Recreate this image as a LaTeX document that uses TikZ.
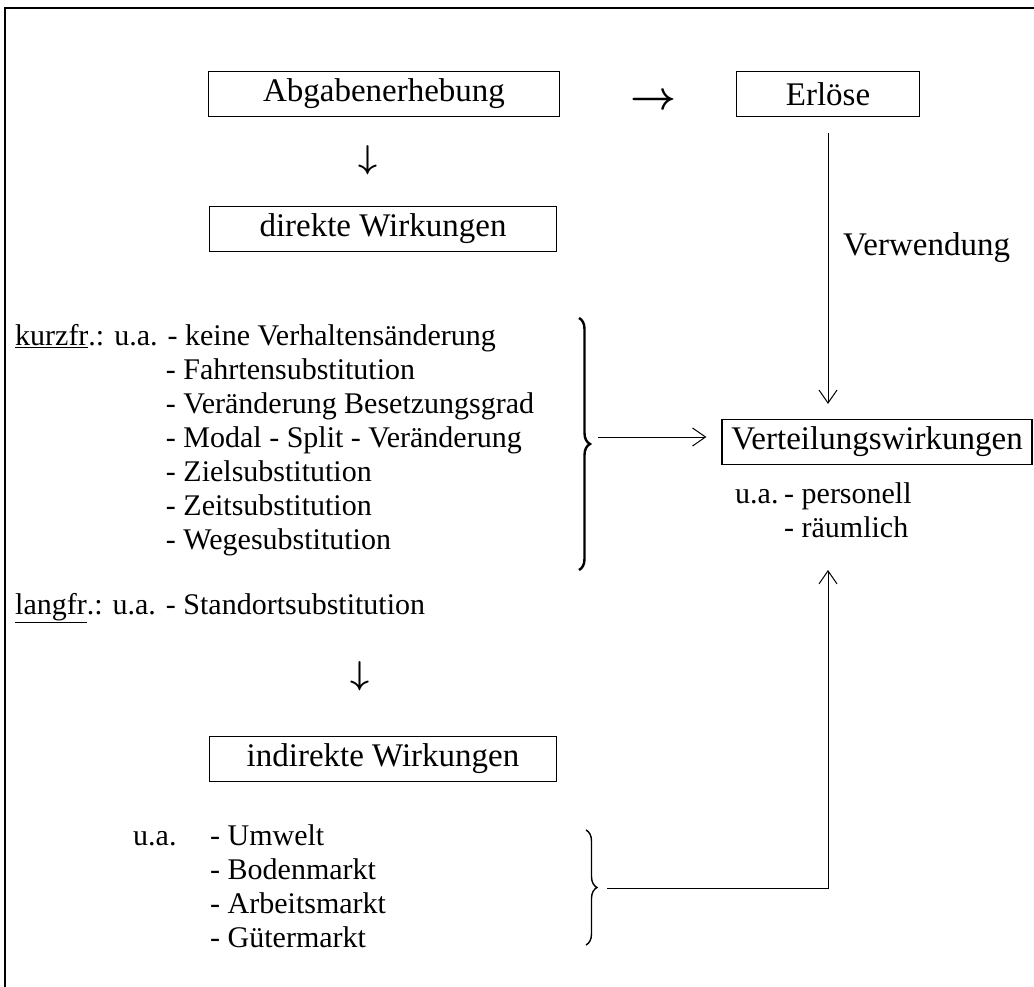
\documentclass[tikz,border=0pt]{standalone}
\usepackage{graphicx}
\usepackage{fontspec}
\setmainfont{Liberation Serif}
\usetikzlibrary{arrows.meta,positioning,calc,decorations.pathreplacing}

\newcommand{\kurzindent}{\hphantom{kurzfr.: u.a. }}

\begin{document}
\begin{tikzpicture}[x=1pt, y=-1pt,
    box/.style={draw, line width=1.2pt, minimum height=45pt, inner sep=0pt, font=\fontsize{33}{36}\selectfont},
    txt/.style={inner sep=0pt, align=left, font=\fontsize{30}{34}\selectfont},
    big/.style={inner sep=0pt, font=\fontsize{33}{36}\selectfont},
    glyph/.style={inner sep=0pt},
    arr/.style={-{Straight Barb[length=13pt,width=18pt]}, line width=1pt},
    bracebig/.style={decorate, decoration={brace, amplitude=11pt}, line width=2.4pt},
    bracesmall/.style={decorate, decoration={brace, amplitude=11pt}, line width=1.4pt}]
        \useasboundingbox (0,0) rectangle (1034,987);
        % Frame
        \draw[line width=2.5pt] (5,8) rectangle (1045,1000);

        % Boxes
        \node[box, minimum width=351pt] (abgabe) at (384,94) {Abgabenerhebung};
        \node[box, minimum width=183pt] (erloese) at (828,94) {Erlöse};
        \node[box, minimum width=347pt] (direkt) at (383,229) {direkte Wirkungen};
        \node[box, minimum width=347pt] (indirekt) at (383,759) {indirekte Wirkungen};
        \node[box, minimum width=310pt] (vert) at (877,442) {Verteilungswirkungen};

        % Arrow glyphs
        \node[glyph] (pfeilR) at (653,102) {\scalebox{4}{\boldmath$\rightarrow$}};
        \node[glyph] (pfeilA) at (368,160) {\scalebox{3.3}{\boldmath$\downarrow$}};
        \node[glyph] (pfeilB) at (360,676) {\scalebox{3.3}{\boldmath$\downarrow$}};

        % Lists
        \node[txt, anchor=north west] (kurz) at (15,324) {\underline{kurzfr}.: u.a. - keine Verhaltensänderung\\
            \kurzindent- Fahrtensubstitution\\
            \kurzindent- Veränderung Besetzungsgrad\\
            \kurzindent- Modal - Split - Veränderung\\
            \kurzindent- Zielsubstitution\\
            \kurzindent- Zeitsubstitution\\
            \kurzindent- Wegesubstitution};
        \node[txt, anchor=west] (lang) at (15,608) {\underline{langfr}.: u.a. - Standortsubstitution};
        \node[txt, anchor=north west] (vertlist) at (735,482) {\makebox[49pt][l]{u.a.}- personell\\
            \hspace*{49pt}- räumlich};
        \node[txt, anchor=north west] (indlist) at (133,824) {\makebox[77pt][l]{u.a.}- Umwelt\\
            \hspace*{77pt}- Bodenmarkt\\
            \hspace*{77pt}- Arbeitsmarkt\\
            \hspace*{77pt}- Gütermarkt};
        \node[big, anchor=west] (verw) at (843,248) {Verwendung};

        % Braces
        \draw[bracebig] (579,318) -- (579,570);
        \coordinate (b1tip) at (591,437);
        \draw[bracesmall] (586,830) -- (586,945);
        \coordinate (b2tip) at (598,888);
        \coordinate (upend) at (828,570);

        % Connectors
        \draw[arr, shorten <=7pt, shorten >=15pt] (b1tip) -- (b1tip -| vert.west);
        \draw[arr] ([yshift=-16pt]erloese.south) -- ([yshift=15pt]erloese.south |- vert.north);
        \draw[arr, shorten <=9pt] (b2tip) -| (upend);
\end{tikzpicture}
\end{document}
